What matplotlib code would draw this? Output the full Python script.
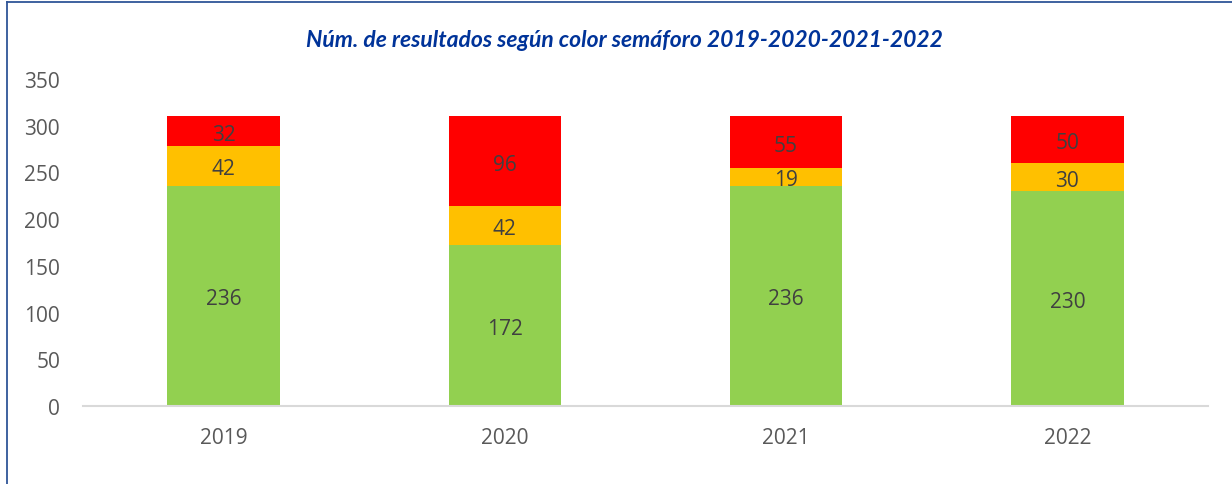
import matplotlib
matplotlib.use("Agg")
import matplotlib.pyplot as plt
from matplotlib.lines import Line2D
import matplotlib.transforms as mtransforms
import numpy as np

years = ["2019", "2020", "2021", "2022"]
verde = [236, 172, 236, 230]
amarillo = [42, 42, 19, 30]
rojo = [32, 96, 55, 50]
title = "Núm. de resultados según color semáforo 2019-2020-2021-2022"

colors = ["#92D050", "#FFC000", "#FF0000"]

fig = plt.figure(figsize=(12.32, 4.85), dpi=100)
ax = fig.add_axes([0.0674, 0.1608, 0.9131, 0.6742])
label_tr = mtransforms.offset_copy(ax.transData, fig=fig, x=0, y=-3, units="dots")

x = np.arange(len(years))
w = 0.4
bottom = np.zeros(len(years))
for vals, c in zip([verde, amarillo, rojo], colors):
    ax.bar(x, vals, w, bottom=bottom, color=c, edgecolor="none", zorder=2)
    for xi, b, v in zip(x, bottom, vals):
        ax.text(xi, b + v / 2, str(v), ha="center", va="center",
                fontsize=15, color="#404040", family="Open Sans", zorder=3,
                transform=label_tr)
    bottom = bottom + np.array(vals)

ax.set_xlim(-0.5, len(years) - 0.5)
ax.set_ylim(0, 350)
ax.set_yticks(np.arange(0, 351, 50))
ax.set_xticks(x)
ax.set_xticklabels(years)
for s in ["top", "right", "left"]:
    ax.spines[s].set_visible(False)
ax.spines["bottom"].set_color("#D9D9D9")
ax.spines["bottom"].set_linewidth(1.5)
ax.tick_params(axis="both", length=0, labelsize=15, labelcolor="#595959")
ax.tick_params(axis="y", pad=16.5)
ax.tick_params(axis="x", pad=15)
for lab in ax.get_xticklabels() + ax.get_yticklabels():
    lab.set_family("Open Sans")

fig.text(0.5065, 0.917, title, ha="center", va="center", fontsize=16.5,
         fontweight="bold", style="italic", color="#003399", family="Lato")

# chart border (top and left visible)
fig.add_artist(Line2D([7 / 1232, 1.0], [1 - 3 / 485, 1 - 3 / 485],
                      color="#2F5597", lw=1.3, transform=fig.transFigure))
fig.add_artist(Line2D([7 / 1232, 7 / 1232], [0, 1 - 3 / 485],
                      color="#2F5597", lw=1.3, transform=fig.transFigure))

fig.savefig("out.png", dpi=100)
